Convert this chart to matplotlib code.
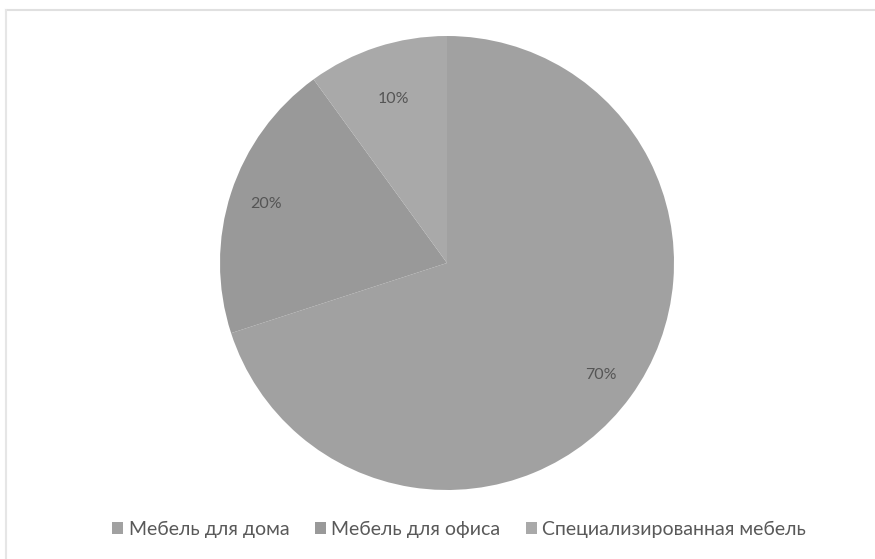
import matplotlib
matplotlib.use("Agg")
import numpy as np
import matplotlib.pyplot as plt
from matplotlib.lines import Line2D

categories = ["Мебель для дома", "Мебель для офиса", "Специализированная мебель"]
values = [70, 20, 10]
labels = ["70%", "20%", "10%"]
colors = ["#a1a1a1", "#999999", "#a9a9a9"]
label_dist = [0.84, 0.84, 0.76]

plt.rcParams['font.family'] = ['Lato', 'DejaVu Sans']

W, H = 875, 559
fig = plt.figure(figsize=(W / 100, H / 100), dpi=100)
fig.patch.set_facecolor("white")

# light border (top and left)
fig.add_artist(Line2D([6 / W, 1], [1 - 10 / H, 1 - 10 / H], color="#e0e0e0", lw=1.5))
fig.add_artist(Line2D([6 / W, 6 / W], [1 - 10 / H, 0], color="#e6e6e6", lw=1.5))

cx, cy, r = 447, 263, 227
ax = fig.add_axes([(cx - r) / W, 1 - (cy + r) / H, 2 * r / W, 2 * r / H])
wedges, texts = ax.pie(values, colors=colors, startangle=90, counterclock=False,
                       labels=labels, labeldistance=0.82,
                       textprops=dict(color="#555555", fontsize=11.5),
                       wedgeprops=dict(linewidth=0))
ax.set_xlim(-1.0, 1.0)
ax.set_ylim(-1.0, 1.0)
ax.set_aspect("equal")
for w, t, d in zip(wedges, texts, label_dist):
    th = np.deg2rad((w.theta1 + w.theta2) / 2)
    t.set_position((d * np.cos(th), d * np.sin(th)))
    t.set_ha("center")
    t.set_va("center")

leg = fig.legend(wedges, categories, loc="center", bbox_to_anchor=(0.525, 1 - 529 / H),
                 ncol=3, frameon=False, fontsize=14, handlelength=0.55, handleheight=0.55,
                 handletextpad=0.3, columnspacing=1.3)
for t in leg.get_texts():
    t.set_color("#595959")

fig.savefig("out.png", dpi=100, facecolor="white")
